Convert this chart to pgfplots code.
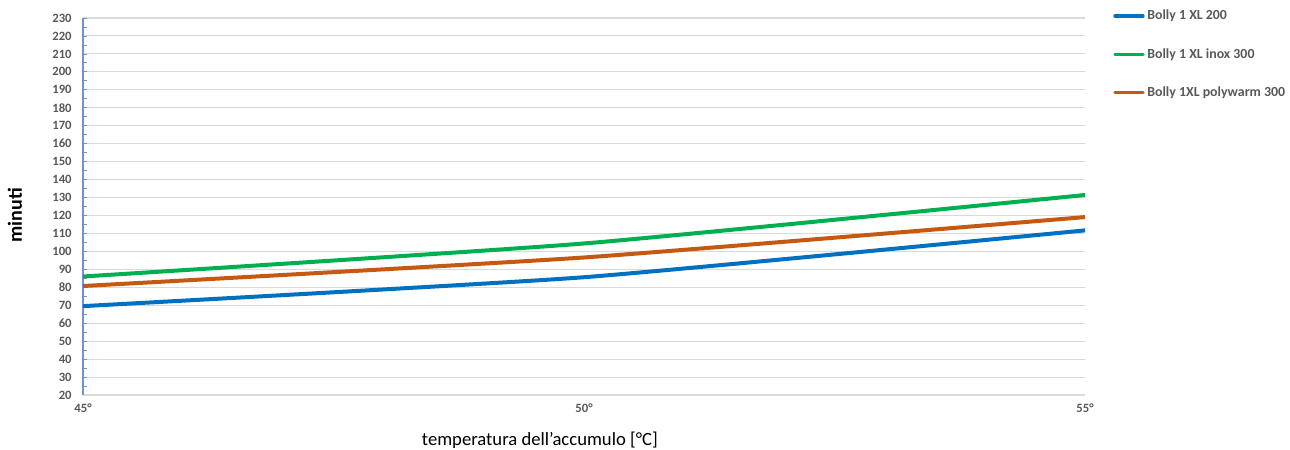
\documentclass[border=0pt]{standalone}
\usepackage{pgfplots}
\pgfplotsset{compat=1.18}
\usepackage{fontspec}
\setmainfont{Carlito}
\definecolor{cblue}{RGB}{0,112,192}
\definecolor{cgreen}{RGB}{0,176,80}
\definecolor{corange}{RGB}{198,89,17}
\definecolor{gridg}{RGB}{217,217,217}
\definecolor{txtg}{RGB}{89,89,89}
\definecolor{axblue}{RGB}{112,146,210}
\begin{document}
\begin{tikzpicture}[x=1pt,y=1pt]
\path[use as bounding box] (0,0) rectangle (967.5,337.5);
\begin{axis}[
  at={(62.25pt,41.25pt)}, anchor=south west,
  scale only axis, width=751.5pt, height=282.75pt,
  xmin=45, xmax=55, ymin=20, ymax=230,
  xtick={45,50,55}, xticklabels={45°,50°,55°},
  ytick={20,30,...,230},
  minor y tick num=1,
  axis x line*=bottom, axis y line*=left,
  x axis line style={draw=gridg, line width=0.8pt, -},
  y axis line style={draw=axblue, line width=0.8pt, -},
  y tick style={draw=axblue, line width=0.6pt},
  x tick style={draw=none},
  tick align=inside, major tick length=3pt, minor tick length=3pt,
  ymajorgrids, grid style={draw=gridg, line width=0.8pt},
  tick label style={font=\bfseries\fontsize{9.5}{11}\selectfont, text=txtg},
  /pgf/number format/assume math mode=true,
  yticklabel style={xshift=-5pt},
  xticklabel style={yshift=-3pt},
  xlabel={temperatura dell’accumulo [°C]},
  xlabel style={at={(axis description cs:0.456,-0.119)}, anchor=center, font=\fontsize{14}{16}\selectfont},
  ylabel={minuti},
  ylabel style={at={(axis description cs:-0.068,0.477)}, anchor=center, font=\bfseries\fontsize{15}{17}\selectfont},
  legend style={at={(axis description cs:1.028,1.029)}, anchor=north west, draw=none, fill=none,
    font=\bfseries\fontsize{10.4}{12}\selectfont, text=txtg, row sep=16pt, inner sep=0pt},
  legend cell align=left,
  legend image code/.code={\draw[#1, line width=2.5pt, line cap=round] (0pt,0pt) -- (21pt,0pt);},
  every axis plot/.append style={line width=3pt, smooth, tension=0.3},
]
\addplot[cblue] coordinates {(45,69.5) (50,85.6) (55,111.7)};
\addlegendentry{Bolly 1 XL 200}
\addplot[cgreen] coordinates {(45,86.0) (50,104.4) (55,131.4)};
\addlegendentry{Bolly 1 XL inox 300}
\addplot[corange] coordinates {(45,80.7) (50,96.6) (55,119.1)};
\addlegendentry{Bolly 1XL polywarm 300}
\end{axis}
\end{tikzpicture}
\end{document}
